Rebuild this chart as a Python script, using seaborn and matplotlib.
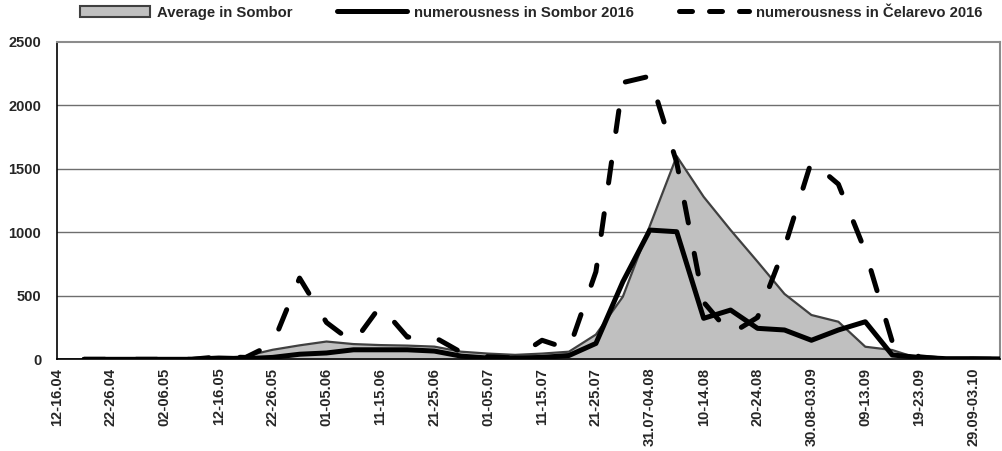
import numpy as np
import pandas as pd
import matplotlib
matplotlib.use("Agg")
import matplotlib.pyplot as plt
from matplotlib.patches import Patch
from matplotlib.lines import Line2D
import seaborn as sns

# 5-day periods, April - October
periods = ["12-16.04", "17-21.04", "22-26.04", "27.04-01.05", "02-06.05", "07-11.05",
           "12-16.05", "17-21.05", "22-26.05", "27-31.05", "01-05.06", "06-10.06",
           "11-15.06", "16-20.06", "21-25.06", "26-30.06", "01-05.07", "06-10.07",
           "11-15.07", "16-20.07", "21-25.07", "26-30.07", "31.07-04.08", "05-09.08",
           "10-14.08", "15-19.08", "20-24.08", "25-29.08", "30.08-03.09", "04-08.09",
           "09-13.09", "14-18.09", "19-23.09", "24-28.09", "29.09-03.10", "04-08.10"]

avg_sombor = [0, 0, 0, 0, 0, 3, 8, 25, 75, 110, 140, 120, 112, 108, 100, 60, 45, 35,
              45, 60, 195, 493, 1050, 1600, 1280, 1018, 769, 515, 349, 296, 99, 73,
              5, 0, 0, 0]

sombor_2016 = [np.nan, 0, 0, 0, 0, 0, 10, 5, 15, 40, 50, 75, 75, 75, 65, 25, 10, 10,
               15, 30, 125, 611, 1018, 1005, 323, 388, 244, 231, 150, 231, 296, 34,
               15, 5, 5, 3]

celarevo_2016 = [np.nan, 0, 0, 0, 0, 0, 20, 15, 120, 640, 290, 130, 420, 175, 175, 55,
                 20, 10, 150, 80, 690, 2180, 2230, 1550, 450, 200, 330, 880, 1560, 1380,
                 850, 140, 20, 0, 0, 0]

labels = ["Average in Sombor", "numerousness in Sombor 2016", "numerousness in Čelarevo 2016"]

sns.set_style("white")
plt.rcParams["font.family"] = ["Liberation Sans", "DejaVu Sans"]
plt.rcParams["font.weight"] = "bold"

df = pd.DataFrame({"x": np.arange(len(periods)), "avg": avg_sombor,
                   "sombor": sombor_2016, "celarevo": celarevo_2016})

fig = plt.figure(figsize=(10.02, 4.51), dpi=100)
ax = fig.add_axes([0.057, 0.2033, 0.941, 0.7037])

# grid behind the area
for v in [500, 1000, 1500, 2000]:
    ax.axhline(v, color="#6e6e6e", lw=1.0, zorder=0)

ax.fill_between(df["x"], df["avg"], color="#c0c0c0", lw=0, zorder=1)
sns.lineplot(data=df, x="x", y="avg", ax=ax, color="#404040", lw=1.6, zorder=2)
sns.lineplot(data=df, x="x", y="sombor", ax=ax, color="black", lw=3.6, zorder=3,
             solid_capstyle="round", solid_joinstyle="round")
sns.lineplot(data=df, x="x", y="celarevo", ax=ax, color="black", lw=3.6, zorder=4,
             linestyle=(0, (4.2, 6.2)), dash_capstyle="round", dash_joinstyle="round")

ax.set_xlim(0, len(periods) - 1)
ax.set_ylim(0, 2500)
ax.set_yticks(range(0, 2501, 500))
ax.set_yticklabels([str(v) for v in range(0, 2501, 500)], fontsize=10.5, fontweight="bold")
ax.set_xticks(df["x"])
ax.set_xticklabels([p if i % 2 == 0 else "" for i, p in enumerate(periods)],
                   rotation=90, fontsize=10.5, fontweight="bold")
ax.tick_params(axis="x", direction="out", length=3.5, width=1, color="black", pad=2.5)
ax.tick_params(axis="y", direction="out", length=4.5, width=1, color="black", pad=7)
ax.set_xlabel("")
ax.set_ylabel("")

for s in ["left", "bottom"]:
    ax.spines[s].set_color("black")
    ax.spines[s].set_linewidth(1.2)
for s in ["top", "right"]:
    ax.spines[s].set_color("#8c8c8c")
    ax.spines[s].set_linewidth(1.5)

handles = [Patch(facecolor="#c0c0c0", edgecolor="#404040", lw=1.5),
           Line2D([], [], color="black", lw=3.6, solid_capstyle="round"),
           Line2D([], [], color="black", lw=3.6, linestyle=(0, (2.6, 3.4)),
                  dash_capstyle="round")]
fig.legend(handles, labels, loc="center", bbox_to_anchor=(0.53, 0.972), ncol=3,
           frameon=False, handlelength=4.7, columnspacing=3.0, handletextpad=0.5,
           prop={"size": 10.7, "weight": "bold"})

fig.savefig("out.png", dpi=100)
